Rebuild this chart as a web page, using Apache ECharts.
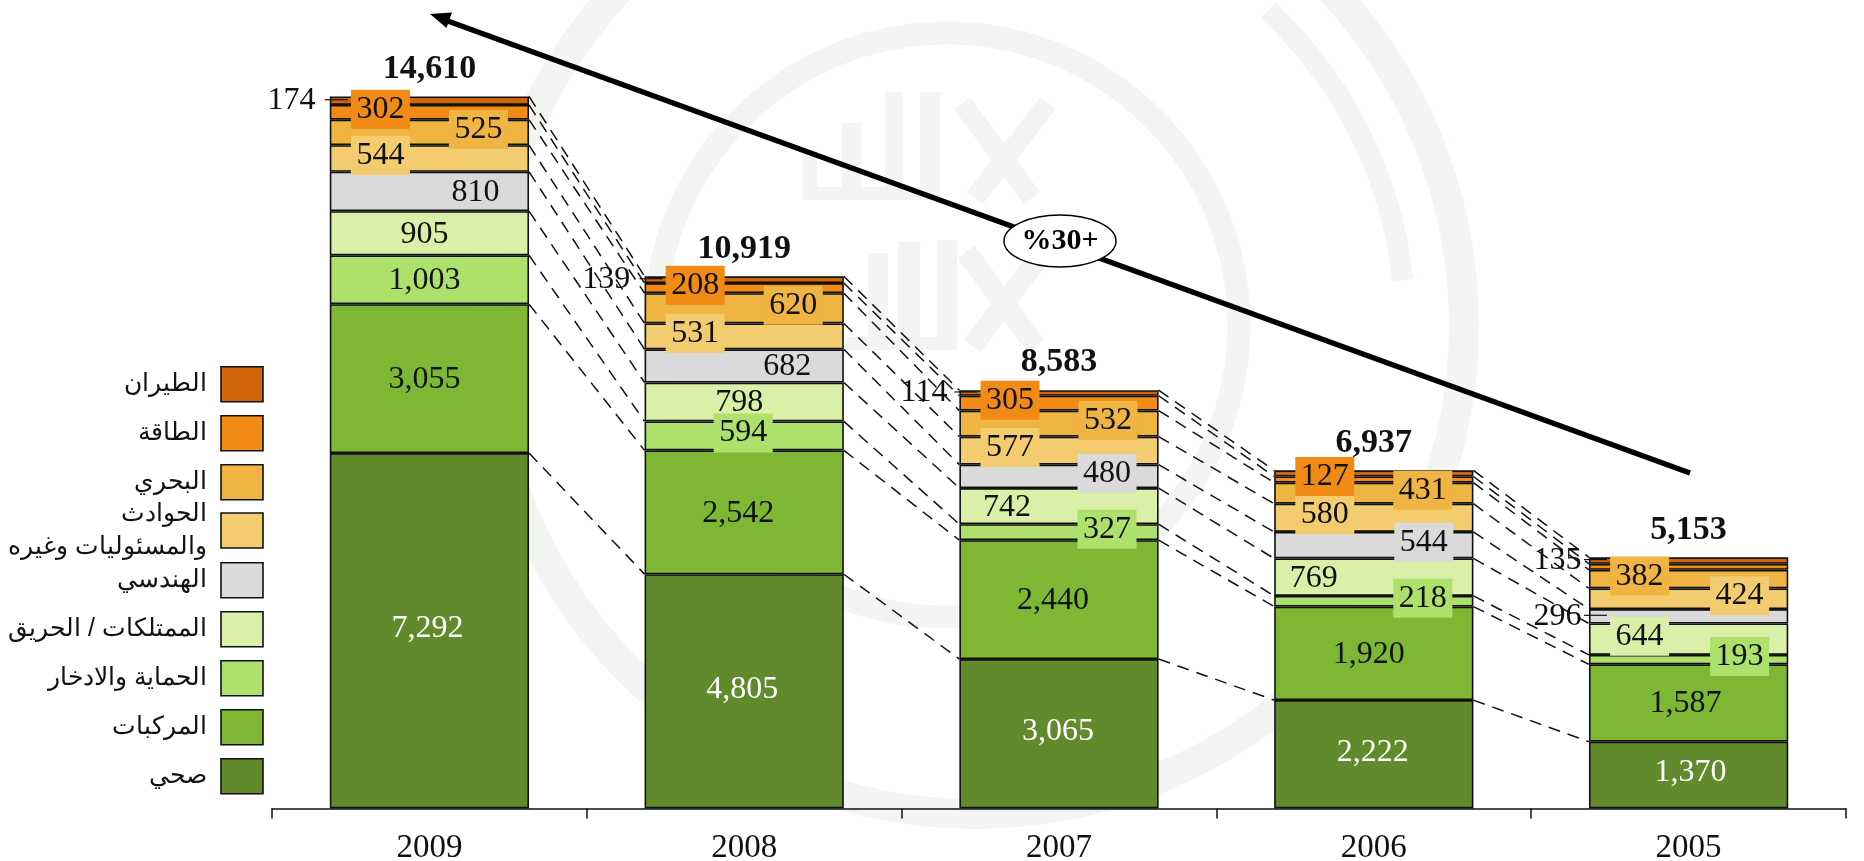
<!DOCTYPE html>
<html><head><meta charset="utf-8">
<style>html,body{margin:0;padding:0;background:#fff}#c{width:1864px;height:861px}</style>
<script src="https://cdn.jsdelivr.net/npm/echarts@6/dist/echarts.min.js"></script>
</head><body><div id="c"></div>
<script>
const years = ['2009','2008','2007','2006','2005'];
const totals = [14610,10919,8583,6937,5153];
const health     = [7292,4805,3065,2222,1370];
const vehicles   = [3055,2542,2440,1920,1587];
const protection = [1003,594,327,218,193];
const property   = [905,798,742,769,644];
const engineering= [810,682,480,544,296];
const accidents  = [544,531,577,580,424];
const marine     = [525,620,532,431,382];
const energy     = [302,208,305,127,122];
const aviation   = [174,139,114,126,135];

const seriesNames = ['صحي','المركبات','الحماية والادخار','الممتلكات / الحريق','الهندسي','الحوادث\nوالمسئوليات وغيره','البحري','الطاقة','الطيران'];
const seriesValues = [health,vehicles,protection,property,engineering,accidents,marine,energy,aviation];
const colors = ['#618A2C','#7DB733','#AEE06C','#DAEFA8','#DADADA','#F2CC6E','#EFB441','#F28A16','#D06408'];

// label placement per series, per year: dx from bar centre, patch flag, hidden flag
const L=-49,R=49,O=-138;
const dxTable = [
 [-2,-2,-1,-1,2],
 [-5,-6,-6,-5,-3],
 [-5,-1,48,49,51],
 [-5,-5,-52,-60,-49],
 [46,43,48,50,O+7],
 [L,L,L,L,51],
 [R,R,R,R,-49],
 [L,L,L,L,null],
 [O,O,O+3,null,O+7]
];
const patchTable = [
 [0,0,0,0,0],[0,0,0,0,0],[0,1,1,1,1],[0,0,0,0,1],[0,0,1,1,0],
 [1,1,1,1,1],[1,1,1,1,1],[1,1,1,1,0],[0,0,0,0,0]
];
const BAR_RATIO = 0.633;
const fontFam = '"Liberation Serif","Times New Roman",serif';
const arabicFam = '"Liberation Sans","Noto Sans",Arial,sans-serif';

function labelDy(si,yi,patch,dx){
  if(dx!==null && dx<-100) return 0;
  if(patch) return -3;
  return si===0?-2:1;
}
const barSeries = seriesNames.map((name,si)=>({
  type:'bar', name, stack:'t', barWidth:(BAR_RATIO*100)+'%', z:3,
  itemStyle:{color:colors[si],borderColor:'#111',borderWidth:1.6},
  data: seriesValues[si].map((v,yi)=>{
    const dx = dxTable[si][yi];
    const patch = patchTable[si][yi];
    return {value:v,label:{
      show: dx!==null,
      position:'inside',
      offset:[dx===null?0:dx,labelDy(si,yi,patch,dx)],
      formatter:()=>v.toLocaleString('en-US'),
      fontFamily:fontFam,fontSize:32,
      color: si===0?'#fff':'#111',
      ...(patch?{backgroundColor:colors[si],width:59,height:39,lineHeight:39,align:'center',verticalAlign:'middle'}:{})
    }};
  })
}));

// connectors between consecutive bars at each stack level
const connectors=[];
{
  const cum=years.map(()=>0);
  seriesValues.forEach(vals=>{
    vals.forEach((v,i)=>cum[i]+=v);
    for(let i=0;i<years.length-1;i++) connectors.push([i,cum[i],cum[i+1]]);
  });
}
const connectorSeries={
  type:'custom',silent:true,z:2,legendHoverLink:false,
  encode:{x:0,y:1},
  data:connectors,
  renderItem(params,api){
    const i=api.value(0);
    const hw=api.size([1,0])[0]*BAR_RATIO/2;
    const a=api.coord([i,api.value(1)]);
    const b=api.coord([i+1,api.value(2)]);
    return {type:'line',shape:{x1:a[0]+hw,y1:a[1],x2:b[0]-hw,y2:b[1]},
      style:{stroke:'#111',lineWidth:1.5,lineDash:[12,8],fill:null}};
  }
};

// leader ticks for the small outside labels
const leaderPoints=[];
years.forEach((y,i)=>{
  const below=seriesValues.slice(0,8).reduce((s,a)=>s+a[i],0);
  if(dxTable[8][i]!==null) leaderPoints.push([i,below+aviation[i]/2]);
  if(i===4) leaderPoints.push([i,health[i]+vehicles[i]+protection[i]+property[i]+engineering[i]/2]);
});
const leaderSeries={
  type:'custom',silent:true,z:5,encode:{x:0,y:1},data:leaderPoints,
  renderItem(params,api){
    const hw=api.size([1,0])[0]*BAR_RATIO/2;
    const p=api.coord([api.value(0),api.value(1)]);
    return {type:'line',shape:{x1:p[0]-hw-5,y1:p[1]-1,x2:p[0]-hw+18,y2:p[1]-1},
      style:{stroke:'#111',lineWidth:1.2,fill:null}};
  }
};

const totalSeries={
  type:'line',name:'total',data:totals,symbol:'circle',symbolSize:1,silent:true,z:6,
  itemStyle:{color:'rgba(0,0,0,0)'},
  lineStyle:{width:0,opacity:0},
  label:{show:true,position:'top',distance:10,fontFamily:fontFam,fontSize:34,fontWeight:'bold',color:'#111',
    formatter:p=>p.value.toLocaleString('en-US')}
};

const wm='#F3F5F3';
const ring=(cx,cy,r,t)=>({type:'ring',z:-10,silent:true,shape:{cx,cy,r:r+t/2,r0:r-t/2},style:{fill:wm}});
const wrect=(x,y,w,h)=>({type:'rect',z:-10,silent:true,shape:{x,y,width:w,height:h},style:{fill:wm}});
const wline=(x1,y1,x2,y2,t)=>({type:'line',z:-10,silent:true,shape:{x1,y1,x2,y2},style:{stroke:wm,lineWidth:t}});
const warc=(cx,cy,r,a0,a1,t)=>({type:'arc',z:-10,silent:true,shape:{cx,cy,r,startAngle:a0*Math.PI/180,endAngle:a1*Math.PI/180,clockwise:true},style:{stroke:wm,lineWidth:t,fill:null}});

const legendBase={orient:'vertical',align:'right',left:7,padding:0,itemWidth:42,itemHeight:35,itemGap:12.4,
  selectedMode:false,icon:'rect',
  itemStyle:{borderColor:'#111',borderWidth:1.6},
  textStyle:{fontFamily:arabicFam,fontSize:25,color:'#111',width:200,align:'right',lineHeight:33,padding:[0,9,0,0]}};
const reversed=seriesNames.slice().reverse();

const chart=echarts.init(document.getElementById('c'),null,{renderer:'canvas'});
chart.setOption({
  animation:false,
  backgroundColor:'#fff',
  grid:{left:272,width:1574,top:28.7,height:779.7,outerBoundsMode:'none'},
  xAxis:{type:'category',data:years,
    axisLine:{lineStyle:{color:'#111',width:1.5}},
    axisTick:{show:true,alignWithLabel:false,length:10,lineStyle:{color:'#111',width:1.5}},
    axisLabel:{interval:0,margin:23,fontFamily:fontFam,fontSize:33,color:'#111'}},
  yAxis:{type:'value',min:0,max:16000,show:false,splitLine:{show:false}},
  legend:[
    {...legendBase,top:366,data:reversed.slice(0,3)},
    {...legendBase,top:497.5,data:reversed.slice(3,4)},
    {...legendBase,top:562,data:reversed.slice(4)}
  ],
  graphic:[
    ring(975,325,489,30),
    ring(947,325,292,23),
    warc(975,325,430,-47,-6,21),
    wrect(885,92,18,108),wrect(920,92,20,108),wrect(803,187,137,13),wrect(803,150,14,50),wrect(842,123,19,77),
    wline(962,103,1032,198,20),wline(1048,103,975,198,20),
    wrect(868,253,20,95),wrect(898,242,22,106),wrect(937,240,20,108),wrect(845,337,112,13),
    wline(966,252,1036,346,21),wline(1043,252,972,346,21),
    {type:'line',z:8,silent:true,shape:{x1:1690,y1:473,x2:445,y2:20},style:{stroke:'#000',lineWidth:5.5}},
    {type:'polygon',z:8,silent:true,shape:{points:[[430,14],[452,12.5],[446.5,28]]},style:{fill:'#000'}},
    {type:'ellipse',z:9,silent:true,shape:{cx:1060,cy:241,rx:56,ry:26},style:{fill:'#fff',stroke:'#000',lineWidth:1.5}},
    {type:'text',z:10,silent:true,style:{x:1060,y:241,text:'%30+',align:'center',verticalAlign:'middle',fontFamily:fontFam,fontSize:30,fontWeight:'bold',fill:'#000'}}
  ],
  series:[connectorSeries,...barSeries,leaderSeries,totalSeries]
});
</script></body></html>
